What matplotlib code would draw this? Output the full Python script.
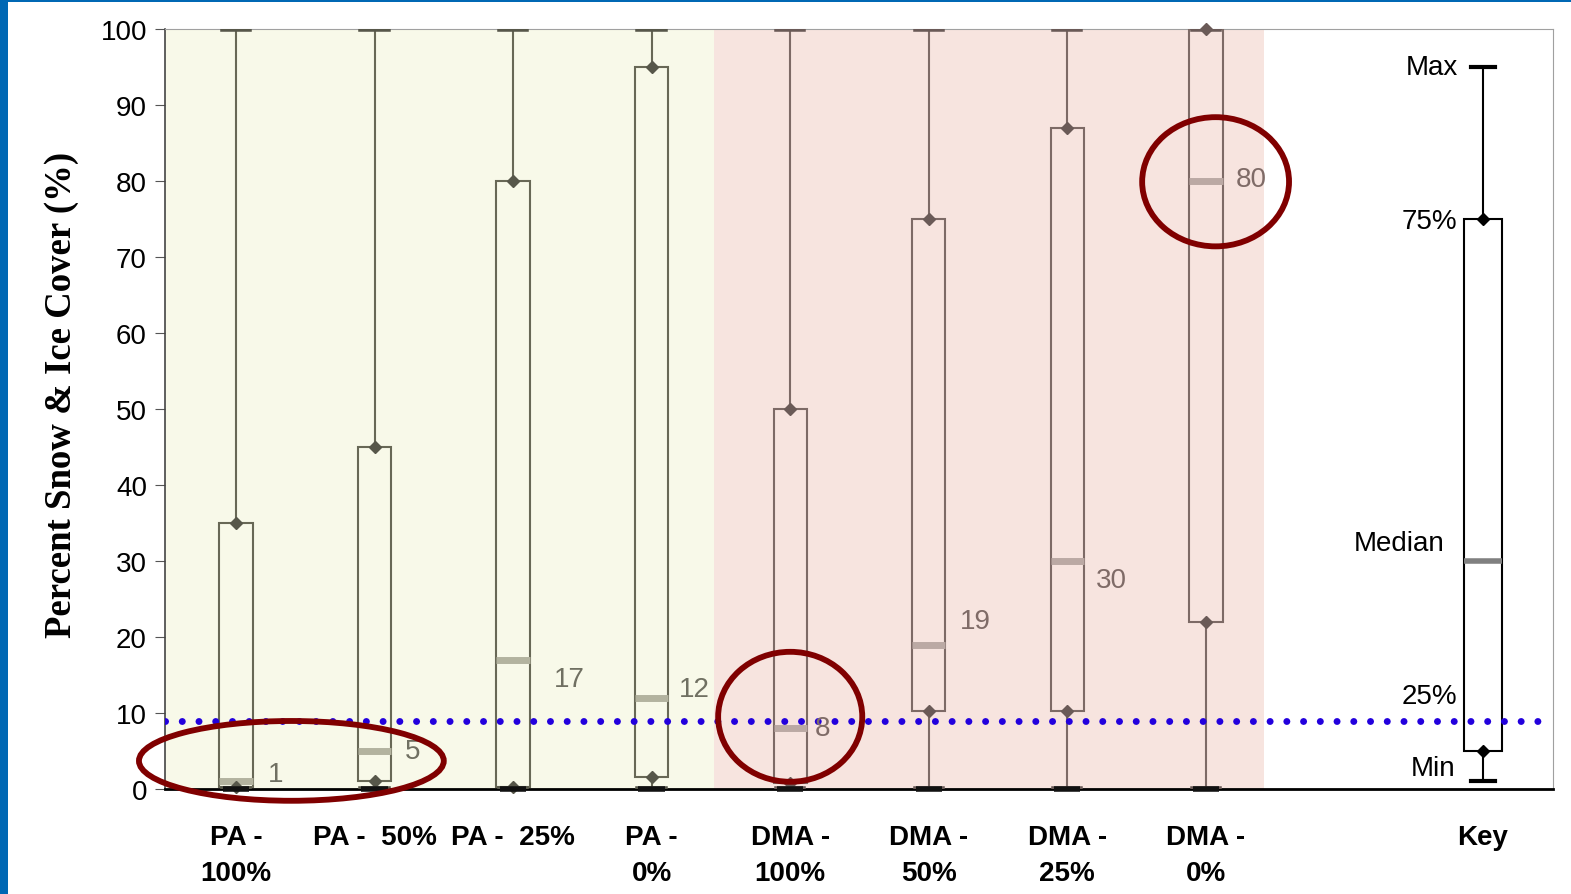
import matplotlib
matplotlib.use("Agg")
import matplotlib.pyplot as plt
from matplotlib.patches import Ellipse, Rectangle

plt.rcParams['font.family'] = ['Liberation Sans', 'DejaVu Sans']

# ---- data ----
categories = ["PA -\n100%", "PA -  50%", "PA -  25%", "PA -\n0%",
              "DMA -\n100%", "DMA -\n50%", "DMA -\n25%", "DMA -\n0%"]
mins    = [0, 0, 0, 0, 0, 0, 0, 0]
q1s     = [0.2, 1.1, 0.2, 1.6, 0.8, 10.2, 10.2, 22]
medians = [1, 5, 17, 12, 8, 19, 30, 80]
q3s     = [35, 45, 80, 95, 50, 75, 87, 100]
maxs    = [100, 100, 100, 100, 100, 100, 100, 100]
median_labels = ["1", "5", "17", "12", "8", "19", "30", "80"]

key_label = "Key"
key_stats = dict(whislo=1, q1=5, med=30, q3=75, whishi=95)
key_texts = ["Max", "75%", "Median", "25%", "Min"]

threshold = 9
yticks = list(range(0, 101, 10))

# ---- styling/layout ----
W, H = 1571, 895
fig = plt.figure(figsize=(W / 100, H / 100), dpi=100)
ax = fig.add_axes([165 / W, (H - 790) / H, (1553 - 165) / W, (790 - 30) / H])

pos = list(range(len(categories)))
key_pos = len(categories) + 1

ax.set_xlim(-0.512, 9.505)
ax.set_ylim(0, 100)

# background groups
ax.axvspan(-0.52, 3.45, color="#f8f9e9", zorder=0, lw=0)
ax.axvspan(3.45, 7.42, color="#f7e4df", zorder=0, lw=0)

groups = [
    (slice(0, 4), "#686856", "#57574a", "#b3b39f"),
    (slice(4, 8), "#7d6a66", "#6a5a57", "#bba9a4"),
]
for sl, edge, dark, medc in groups:
    idx = list(range(len(categories)))[sl]
    stats = [dict(whislo=mins[i], q1=q1s[i], med=medians[i], q3=q3s[i], whishi=maxs[i])
             for i in idx]
    ax.bxp(stats, positions=[pos[i] for i in idx], widths=0.24, showfliers=False,
           patch_artist=True, capwidths=0.19,
           boxprops=dict(facecolor="none", edgecolor=edge, linewidth=1.5),
           whiskerprops=dict(color=edge, linewidth=1.5),
           capprops=dict(color=dark, linewidth=4),
           medianprops=dict(color=medc, linewidth=5, solid_capstyle="butt"),
           manage_ticks=False, zorder=3)
    for i in idx:
        ax.plot([pos[i], pos[i]], [q1s[i], q3s[i]], ls="none", marker="D",
                ms=6.5, color=dark, zorder=4, clip_on=False)
    for i in idx:
        ax.plot([pos[i] - 0.095, pos[i] + 0.095], [mins[i], mins[i]], color="#111111",
                lw=4, solid_capstyle="butt", zorder=4, clip_on=False)

label_offsets = [(32, 7), (30, 0), (41, -19), (27, 9), (25, 0), (31, 24), (29, -19), (30, 2)]
for i, (dx, dy) in enumerate(label_offsets):
    txtc = "#707062" if i < 4 else "#7f6b67"
    ax.annotate(median_labels[i], (pos[i], medians[i]), xytext=(dx, dy),
                textcoords="offset pixels", ha="left", va="center",
                fontsize=20, color=txtc, zorder=6)

# key box
ax.bxp([key_stats], positions=[key_pos], widths=0.27, showfliers=False,
       patch_artist=True, capwidths=0.18,
       boxprops=dict(facecolor="white", edgecolor="black", linewidth=1.5),
       whiskerprops=dict(color="black", linewidth=1.5),
       capprops=dict(color="black", linewidth=3),
       medianprops=dict(color="#808080", linewidth=4, solid_capstyle="butt"),
       manage_ticks=False, zorder=3)
ax.plot([key_pos, key_pos], [key_stats["q1"], key_stats["q3"]], ls="none", marker="D",
        ms=6.5, color="black", zorder=4)
key_vals = [key_stats["whishi"], key_stats["q3"], key_stats["med"], key_stats["q1"], key_stats["whislo"]]
key_text_off = [(-25, 0), (-26, -2), (-39, 18), (-26, 55), (-28, 13)]
for t, v, (dx, dy) in zip(key_texts, key_vals, key_text_off):
    ax.annotate(t, (key_pos, v), xytext=(dx, dy), textcoords="offset pixels",
                ha="right", va="center", fontsize=20, color="black", zorder=6)

# threshold dotted line
ax.axhline(threshold, color="#2200dd", lw=5, linestyle=(0, (0.01, 2.4)),
           dash_capstyle="round", zorder=5)

# ellipses highlighting
ellipses = [(0.40, 3.7, 2.2, 10.5), (4.0, 9.5, 1.04, 17.1), (7.07, 79.9, 1.06, 17.0)]
for cx, cy, w, h in ellipses:
    ax.add_patch(Ellipse((cx, cy), w, h, fill=False, edgecolor="#800000", lw=4.2,
                         zorder=7, clip_on=False))

# axes styling
ax.set_yticks(yticks)
ax.set_yticklabels([str(v) for v in yticks], fontsize=20)
ax.tick_params(axis="y", direction="out", length=7, color="#555555", pad=6)
ax.set_xticks(pos + [key_pos])
ax.set_xticklabels(categories + [key_label], fontsize=20, fontweight="bold",
                   linespacing=1.5, va="top")
ax.tick_params(axis="x", length=0, pad=25)
ax.spines["left"].set_color("#444444")
ax.spines["left"].set_linewidth(1.2)
ax.spines["bottom"].set_color("black")
ax.spines["bottom"].set_linewidth(2)
ax.spines["top"].set_color("#a0a0a0")
ax.spines["right"].set_color("#a0a0a0")

fig.text(62 / W, 1 - 395 / H, "Percent Snow & Ice Cover (%)", rotation=90,
         ha="center", va="center", fontsize=26.5, fontweight="bold",
         family=["Liberation Serif", "DejaVu Serif"])

# blue frame
fig.add_artist(Rectangle((0, 0), 8 / W, 1, transform=fig.transFigure,
                         color="#0068b4", lw=0))
fig.add_artist(Rectangle((0, 1 - 3 / H), 1, 3 / H, transform=fig.transFigure,
                         color="#0068b4", lw=0))

fig.savefig("out.png", dpi=100)
